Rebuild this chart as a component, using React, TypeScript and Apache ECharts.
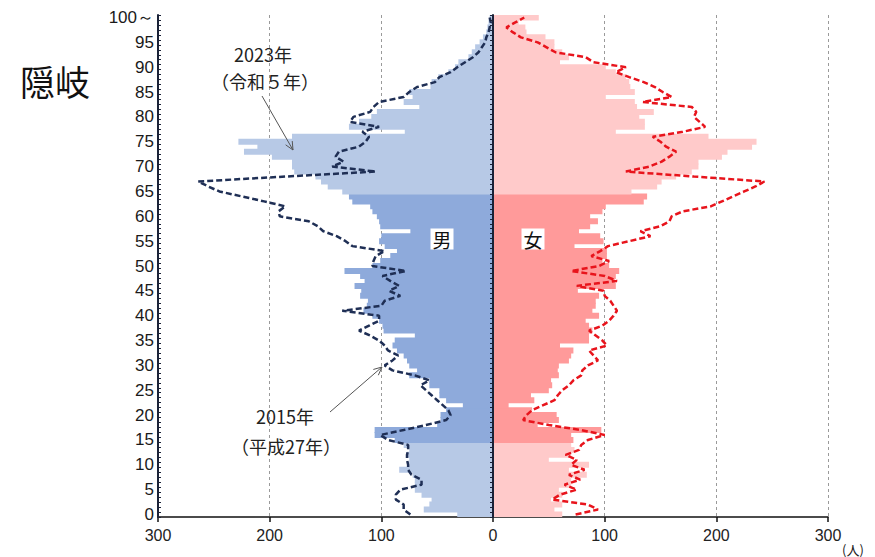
import React, { useEffect, useRef } from "react";
import * as echarts from "echarts";

// 年齢 0..100（100は「100～」）
const ageCategories: string[] = Array.from({ length: 101 }, (_, i) => String(i));
const xTicks = [-300, -200, -100, 0, 100, 200, 300];

// 2023年（令和5年）男 — 棒
const male2023 = [
  32, 62, 57, 55, 64, 70, 70, 70, 72, 84,
  75, 75, 77, 75, 80, 88, 106, 106, 50, 47,
  47, 42, 27, 42, 48, 48, 57, 57, 75, 68,
  75, 77, 80, 86, 90, 88, 70, 98, 99, 102,
  108, 116, 113, 112, 119, 118, 124, 115, 119, 133,
  108, 101, 92, 86, 97, 102, 100, 74, 101, 102,
  104, 108, 110, 126, 129, 135, 148, 154, 159, 178,
  180, 180, 198, 223, 211, 228, 180, 79, 129, 120,
  109, 104, 66, 80, 72, 75, 56, 55, 49, 40,
  34, 31, 22, 19, 16, 12, 9, 6, 5, 4,
  3,
];

// 2023年（令和5年）女 — 棒
const female2023 = [
  62, 55, 62, 52, 62, 59, 70, 70, 84, 68,
  86, 50, 70, 73, 70, 72, 70, 97, 40, 59,
  57, 35, 14, 37, 34, 50, 53, 52, 59, 58,
  59, 68, 70, 72, 60, 86, 86, 89, 86, 83,
  95, 89, 92, 92, 95, 76, 110, 109, 110, 113,
  104, 98, 102, 102, 73, 99, 96, 77, 87, 94,
  87, 98, 101, 135, 138, 124, 147, 151, 164, 178,
  184, 184, 205, 210, 232, 236, 193, 110, 136, 136,
  131, 144, 129, 127, 101, 127, 123, 122, 119, 110,
  101, 60, 68, 62, 55, 55, 47, 30, 29, 23,
  41,
];

// 2015年（平成27年）男 — 破線
const male2015 = [
  74, 80, 80, 87, 87, 83, 64, 64, 73, 76,
  76, 77, 77, 76, 76, 94, 101, 80, 60, 42,
  38, 40, 45, 50, 55, 60, 65, 57, 70, 90,
  97, 90, 85, 94, 97, 102, 110, 120, 111, 102,
  102, 135, 100, 97, 83, 93, 84, 92, 99, 78,
  108, 107, 105, 97, 126, 132, 140, 152, 157, 165,
  191, 192, 186, 205, 225, 245, 255, 264, 186, 105,
  144, 134, 141, 138, 120, 114, 111, 117, 102, 128,
  125, 110, 107, 102, 80, 75, 68, 52, 48, 38,
  32, 25, 18, 13, 10, 7, 6, 4, 3, 2,
  3,
];

// 2015年（平成27年）女 — 破線
const female2015 = [
  74, 94, 85, 53, 60, 75, 64, 78, 68, 82,
  70, 75, 65, 77, 79, 85, 100, 79, 50, 27,
  30, 35, 45, 55, 58, 62, 68, 72, 79, 80,
  85, 94, 90, 86, 102, 98, 92, 86, 98, 104,
  108, 111, 108, 105, 100, 99, 75, 111, 100, 70,
  95, 104, 88, 96, 103, 122, 141, 132, 150, 158,
  160, 170, 195, 205, 215, 225, 235, 243, 180, 119,
  140, 151, 158, 164, 155, 150, 143, 170, 190, 185,
  180, 182, 178, 134, 160, 152, 145, 135, 122, 110,
  119, 90, 83, 56, 48, 40, 25, 18, 12, 20,
  28,
];

const MALE_LIGHT = "#b7c9e6";
const MALE_DARK = "#8eaadb";
const FEMALE_LIGHT = "#ffcaca";
const FEMALE_DARK = "#ff9a9a";

const isWorkingAge = (age: number) => age >= 15 && age <= 64;

export default function App() {
  const ref = useRef<HTMLDivElement>(null);

  useEffect(() => {
    if (!ref.current) return;
    const chart = echarts.init(ref.current, null, { renderer: "svg" });
    const numFont = "'Liberation Sans', Arial, sans-serif";
    const jpFont = "'Noto Sans CJK JP', sans-serif";

    const arrowHead = (x: number, y: number, angleDeg: number) => {
      const a = (angleDeg * Math.PI) / 180;
      const len = 9;
      const spread = (25 * Math.PI) / 180;
      const p1 = [x - len * Math.cos(a - spread), y - len * Math.sin(a - spread)];
      const p2 = [x - len * Math.cos(a + spread), y - len * Math.sin(a + spread)];
      return {
        type: "polyline",
        shape: { points: [p1, [x, y], p2] },
        style: { stroke: "#555", lineWidth: 1, fill: "none" },
        z: 20,
      };
    };

    const yAxisBase = {
      type: "category",
      data: ageCategories,
      position: "left",
      boundaryGap: true,
      z: 6,
    };

    const barItem = (color: string) => ({ color });

    chart.setOption({
      animation: false,
      backgroundColor: "#ffffff",
      grid: { left: 158, right: 47, top: 15, bottom: 40, containLabel: false },
      xAxis: {
        type: "value",
        min: xTicks[0],
        max: xTicks[xTicks.length - 1],
        interval: 100,
        axisLine: { show: true, onZero: false, lineStyle: { color: "#111", width: 1.5 } },
        axisTick: { show: true, length: 5, lineStyle: { color: "#111", width: 1.5 } },
        axisLabel: {
          formatter: (v: number) => String(Math.abs(v)),
          fontSize: 16,
          color: "#222",
          fontFamily: numFont,
          margin: 10,
        },
        splitLine: {
          show: true,
          lineStyle: { color: "#9a9a9a", type: [3, 3], width: 1 },
        },
      },
      yAxis: [
        {
          ...yAxisBase,
          axisLine: { show: true, onZero: true, lineStyle: { color: "#1a2238", width: 2 } },
          axisTick: { show: true, interval: 0, length: 3, inside: false, lineStyle: { color: "#1a2238", width: 1 } },
          axisLabel: {
            interval: 4,
            formatter: (v: string) => (v === "100" ? "100～" : v),
            fontSize: 17,
            color: "#1a1a1a",
            fontFamily: numFont,
            margin: 4,
          },
          splitLine: { show: false },
        },
        {
          ...yAxisBase,
          axisLine: { show: true, onZero: true, lineStyle: { color: "#1a2238", width: 2 } },
          axisTick: { show: true, interval: 0, length: 3, inside: true, lineStyle: { color: "#1a2238", width: 1 } },
          axisLabel: { show: false },
          splitLine: { show: false },
        },
      ],
      series: [
        {
          name: "男2023",
          type: "bar",
          yAxisIndex: 0,
          barWidth: 6,
          barGap: "-100%",
          z: 2,
          data: male2023.map((v, i) => ({
            value: -v,
            itemStyle: barItem(isWorkingAge(i) ? MALE_DARK : MALE_LIGHT),
          })),
        },
        {
          name: "女2023",
          type: "bar",
          yAxisIndex: 0,
          barWidth: 6,
          barGap: "-100%",
          z: 2,
          data: female2023.map((v, i) => ({
            value: v,
            itemStyle: barItem(isWorkingAge(i) ? FEMALE_DARK : FEMALE_LIGHT),
          })),
        },
        {
          name: "男2015",
          type: "line",
          yAxisIndex: 0,
          showSymbol: false,
          symbol: "none",
          z: 4,
          lineStyle: { color: "#1f2f55", width: 2.5, type: [6, 3] },
          data: male2015.map((v) => -v),
        },
        {
          name: "女2015",
          type: "line",
          yAxisIndex: 0,
          showSymbol: false,
          symbol: "none",
          z: 4,
          lineStyle: { color: "#e8141c", width: 2.5, type: [6, 3] },
          data: female2015.map((v) => v),
        },
      ],
      graphic: [
        {
          type: "text",
          left: 20,
          top: 63,
          z: 20,
          style: { text: "隠岐", font: `35px ${jpFont}`, fill: "#111" },
        },
        {
          type: "text",
          x: 263,
          y: 54,
          z: 20,
          style: { text: "2023年", font: `18px ${jpFont}`, fill: "#222", align: "center", verticalAlign: "middle" },
        },
        {
          type: "text",
          x: 265,
          y: 81,
          z: 20,
          style: { text: "（令和５年）", font: `18px ${jpFont}`, fill: "#222", align: "center", verticalAlign: "middle" },
        },
        {
          type: "text",
          x: 285,
          y: 416,
          z: 20,
          style: { text: "2015年", font: `18px ${jpFont}`, fill: "#222", align: "center", verticalAlign: "middle" },
        },
        {
          type: "text",
          x: 286,
          y: 446,
          z: 20,
          style: { text: "（平成27年）", font: `18px ${jpFont}`, fill: "#222", align: "center", verticalAlign: "middle" },
        },
        {
          type: "line",
          z: 20,
          shape: { x1: 262, y1: 96, x2: 293, y2: 150 },
          style: { stroke: "#555", lineWidth: 1 },
        },
        arrowHead(293, 150, (Math.atan2(150 - 96, 293 - 262) * 180) / Math.PI),
        {
          type: "line",
          z: 20,
          shape: { x1: 330, y1: 412, x2: 382, y2: 367 },
          style: { stroke: "#555", lineWidth: 1 },
        },
        arrowHead(382, 367, (Math.atan2(367 - 412, 382 - 330) * 180) / Math.PI),
        {
          type: "text",
          x: 442,
          y: 239,
          z: 20,
          style: {
            text: "男",
            font: `19px ${jpFont}`,
            fill: "#111",
            align: "center",
            verticalAlign: "middle",
            backgroundColor: "#ffffff",
            padding: [1, 2, 1, 2],
          },
        },
        {
          type: "text",
          x: 533,
          y: 239,
          z: 20,
          style: {
            text: "女",
            font: `19px ${jpFont}`,
            fill: "#111",
            align: "center",
            verticalAlign: "middle",
            backgroundColor: "#ffffff",
            padding: [1, 2, 1, 2],
          },
        },
        {
          type: "text",
          x: 842,
          y: 549,
          z: 20,
          style: { text: "(人)", font: `13px ${jpFont}`, fill: "#222", verticalAlign: "middle" },
        },
      ],
    });

    return () => chart.dispose();
  }, []);

  return (
    <div
      ref={ref}
      style={{ position: "fixed", left: 0, top: 0, width: 875, height: 557, background: "#fff" }}
    />
  );
}
